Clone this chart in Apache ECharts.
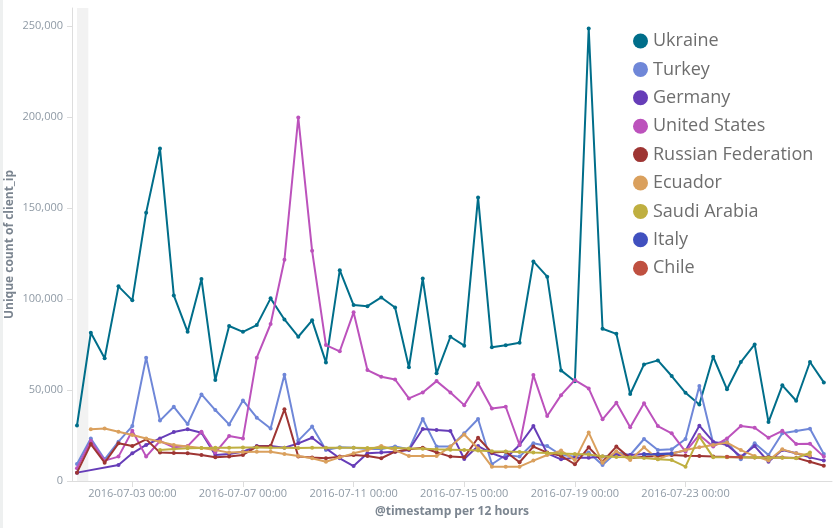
<!DOCTYPE html>
<html>
<head>
<meta charset="utf-8">
<script src="https://cdn.jsdelivr.net/npm/echarts@6.0.0/dist/echarts.min.js"></script>
<style>
  html, body { margin: 0; padding: 0; background: #fff; }
  #strip { position: absolute; left: 0; top: 0; width: 3px; height: 528px; background: #eef0f0; }
  #chart { width: 839px; height: 528px; }
</style>
</head>
<body>
<div id="strip"></div>
<div id="chart"></div>
<script>
// ---- data (12-hour buckets starting 2016-07-01 00:00 UTC) ----
const bucketStart = '2016-07-01T00:00:00Z';
const bucketHours = 12;

const countries = ['Ukraine', 'Turkey', 'Germany', 'United States', 'Russian Federation', 'Ecuador', 'Saudi Arabia', 'Italy', 'Chile'];
const colors = ['#006e8a', '#6f87d8', '#663db8', '#bc52bc', '#9e3533', '#daa05d', '#bfaf40', '#4050bf', '#bf5040'];

const ukraine = [30500, 81500, 67500, 107000, 99300, 147500, 182800, 102000, 82000, 111000,
  55500, 85200, 82000, 85700, 100400, 88800, 79300, 88300, 65200, 115900,
  96700, 96100, 100900, 95400, 62500, 111300, 59200, 79300, 74400, 155900,
  73500, 74600, 76000, 120700, 112300, 60800, 54800, 248700, 83700, 80900,
  47800, 64100, 66300, 57700, 48500, 42100, 68300, 50400, 65400, 75100,
  32400, 52600, 44100, 65400, 54200];

const turkey = [9300, 23400, 11900, 21600, 30200, 67800, 33200, 40800, 31300, 47600,
  39000, 31100, 44300, 34800, 28900, 58400, 22200, 29900, 17000, 18500,
  18300, 17600, 17600, 19000, 17400, 34100, 18900, 18900, 26200, 34100,
  9200, 14300, 13400, 20700, 19200, 14300, 13400, 15600, 8800, 15800,
  14300, 23100, 17000, 17400, 23100, 52200, 20700, 21600, 11900, 20700,
  14300, 26200, 27500, 28700, 14800];

const germany = [4600, null, null, 8800, 15200, 19800, 23400, 26900, 28400, 26500,
  14300, 14800, 16100, 19200, 19200, 18300, 20700, 23800, 17900, 12500,
  8200, 15200, 15600, 16100, 17000, 28600, 28000, 27500, 12100, 19200,
  15200, 12500, 19800, 30200, 15200, 11900, 12800, 12800, 13400, 14300,
  14300, 14800, 14800, 15200, 16700, 30400, 21600, 19800, 13400, 19200,
  10600, 17000, 15200, 13000, 11200];

const unitedStates = [7000, 22000, 11200, 13400, 27600, 13400, 22000, 18500, 19200, 27100,
  15600, 24700, 23400, 67800, 86300, 121600, 199800, 126500, 74700, 71300,
  92700, 61000, 57300, 55800, 45400, 48700, 54900, 48700, 41700, 53700,
  39900, 40800, 19800, 58200, 35700, 47200, 55500, 50900, 33900, 43000,
  29500, 42700, 30200, 26200, 16100, 25300, 18900, 23400, 30200, 29300,
  23800, 27600, 20300, 20500, 13400];

const russianFederation = [4600, 20300, 10100, 20700, 19200, 22900, 15600, 15400, 15200, 14300,
  13000, 13500, 14300, 18900, 19200, 39400, 13400, 12900, 12500, 13400,
  14300, 13700, 12500, 16100, 17400, 18300, 15800, 13400, 13000, 23800,
  15600, 16100, 10300, 18900, 15600, 13800, 9200, 18500, 10600, 18900,
  12500, 13300, 13800, 14300, 13900, 13700, 13400, 13200, 13000, 12900,
  13000, 12900, 12700, 10600, 8400];

const ecuador = [null, 28400, 28900, 27100, 25300, 23400, 21600, 19800, 18900, 18100,
  17000, 15600, 15900, 16100, 16100, 14900, 13700, 12500, 10600, 13000,
  15200, 17000, 19200, 17000, 13700, 13800, 13700, 18900, 25600, 17900,
  7900, 7800, 7900, 11200, 14300, 16700, 11500, 26600, 10100, 16300,
  11500, 18500, 11900, 15000, 17000, 18500, 19800, 21100, 17000, 13700,
  11200, 17400, 15200, 14000, null];

const saudiArabia = [null, null, null, null, null, null, 17000, 17600, 18000, 18100,
  18300, 18300, 18400, 18400, 18300, 18300, 18200, 18300, 18300, 18300,
  18300, 18200, 18300, 18100, 17900, 17700, 17400, 17200, 17000, 16700,
  16400, 16200, 15900, 15600, 15400, 15100, 14800, 14500, 13600, 13200,
  13000, 12600, 12000, 11500, 7900, 24400, 13000, 13000, 13000, 12900,
  12800, 12800, 12500, 15600, null];

const italy = [null, null, null, null, null, null, null, null, null, null,
  null, null, null, null, null, null, null, null, null, null,
  null, null, null, null, null, null, null, null, null, null,
  null, null, null, null, null, null, null, null, null, null,
  null, 14600, 14700, 15000, null, null, null, null, null, null,
  null, null, null, null, null];

const chile = [null, null, null, null, null, null, null, null, null, null,
  null, null, null, null, null, null, null, null, null, null,
  null, null, null, null, null, null, null, null, null, null,
  null, null, null, null, null, null, null, null, null, null,
  null, null, null, null, null, null, null, 13300, 13100, null,
  null, null, null, null, null];

const seriesValues = [ukraine, turkey, germany, unitedStates, russianFederation, ecuador, saudiArabia, italy, chile];

const xTickLabels = ['2016-07-03 00:00', '2016-07-07 00:00', '2016-07-11 00:00', '2016-07-15 00:00', '2016-07-19 00:00', '2016-07-23 00:00'];
const yTicks = [0, 50000, 100000, 150000, 200000, 250000];

const axisStart = '2016-06-30T19:40:00Z';
const axisEnd = '2016-07-28T07:06:00Z';
const partialStart = '2016-07-01T00:00:00Z';
const partialEnd = '2016-07-01T09:48:00Z';

// ---- build ----
const t0 = Date.parse(bucketStart);
const stepMs = bucketHours * 3600 * 1000;
const times = ukraine.map((_, i) => t0 + i * stepMs);
const parseLabel = s => Date.parse(s.replace(' ', 'T') + ':00Z');
const xTickValues = xTickLabels.map(parseLabel);
const pad = n => String(n).padStart(2, '0');
const fmtTime = v => {
  const d = new Date(v);
  return d.getUTCFullYear() + '-' + pad(d.getUTCMonth() + 1) + '-' + pad(d.getUTCDate()) + ' ' +
    pad(d.getUTCHours()) + ':' + pad(d.getUTCMinutes());
};

const axisColor = '#dddddd';
const labelColor = '#8f9aa5';
const nameColor = '#7b8590';
const font = 'Open Sans';

const series = countries.map((name, k) => ({
  name: name,
  type: 'line',
  data: seriesValues[k].map((v, i) => [times[i], v]),
  connectNulls: true,
  symbol: 'circle',
  symbolSize: 4,
  showSymbol: true,
  lineStyle: { width: 2, color: colors[k] },
  itemStyle: { color: colors[k] },
  emphasis: { disabled: true },
  z: 2 + k
}));
series[0].markArea = {
  silent: true,
  itemStyle: { color: '#f2f2f2' },
  data: [[{ xAxis: Date.parse(partialStart) }, { xAxis: Date.parse(partialEnd) }]]
};

const chart = echarts.init(document.getElementById('chart'), null, { renderer: 'canvas' });
chart.setOption({
  animation: false,
  color: colors,
  grid: { left: 72, top: 8, right: 7, bottom: 47, containLabel: false, outerBoundsMode: 'none' },
  legend: {
    orient: 'vertical',
    left: 633,
    top: 31,
    padding: 0,
    icon: 'circle',
    itemWidth: 15,
    itemHeight: 15,
    itemGap: 8.4,
    selectedMode: false,
    textStyle: { fontFamily: font, fontSize: 18, color: '#6e6e6e', lineHeight: 20 },
    data: countries
  },
  xAxis: {
    type: 'value',
    min: Date.parse(axisStart),
    max: Date.parse(axisEnd),
    name: '@timestamp per 12 hours',
    nameLocation: 'middle',
    nameGap: 25,
    nameMoveOverlap: false,
    nameTextStyle: { fontFamily: font, fontSize: 12, fontWeight: 'bold', color: nameColor },
    axisLine: { show: true, lineStyle: { color: axisColor, width: 1 } },
    axisTick: { show: true, length: 6, lineStyle: { color: axisColor }, customValues: xTickValues },
    axisLabel: {
      customValues: xTickValues,
      formatter: v => fmtTime(v),
      fontFamily: font, fontSize: 11, color: labelColor, margin: 7
    },
    splitLine: { show: false }
  },
  yAxis: {
    type: 'value',
    min: 0,
    max: 260000,
    name: 'Unique count of client_ip',
    nameLocation: 'middle',
    nameGap: 56,
    nameRotate: 90,
    nameMoveOverlap: false,
    nameTextStyle: { fontFamily: font, fontSize: 12, fontWeight: 'bold', color: nameColor },
    axisLine: { show: true, lineStyle: { color: axisColor, width: 1 } },
    axisTick: { show: true, length: 5, lineStyle: { color: axisColor }, customValues: yTicks },
    axisLabel: {
      customValues: yTicks,
      formatter: v => v.toLocaleString('en-US'),
      fontFamily: font, fontSize: 11, color: labelColor, margin: 9
    },
    splitLine: { show: false }
  },
  series: series
});
</script>
</body>
</html>
